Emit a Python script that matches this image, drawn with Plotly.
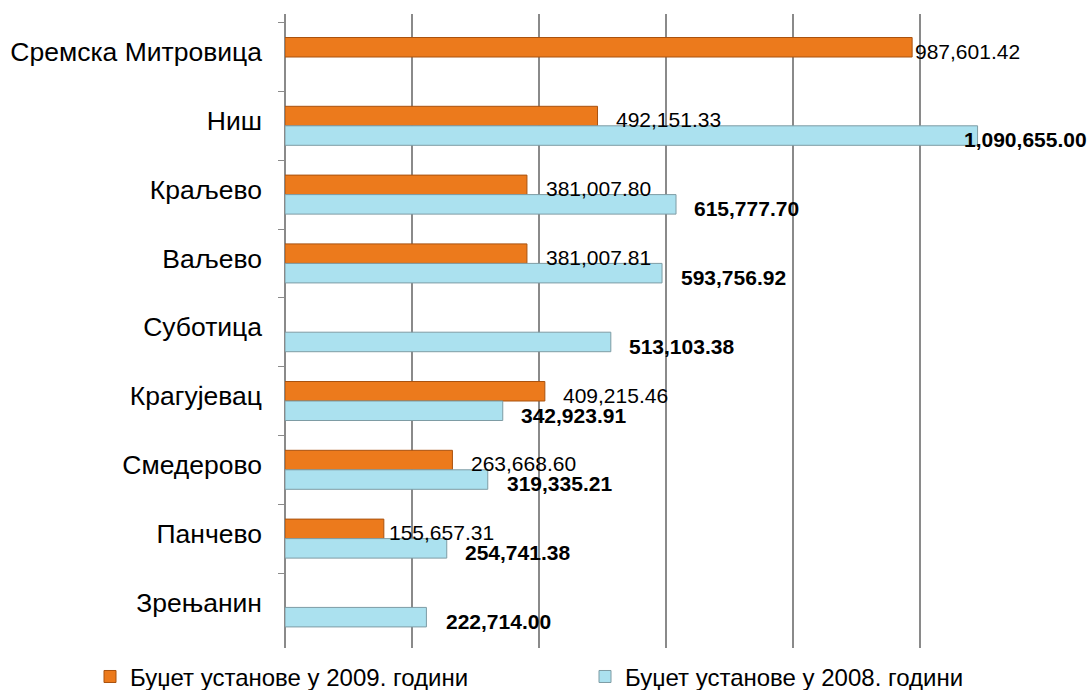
import plotly.graph_objects as go

categories = ["Сремска Митровица", "Ниш", "Краљево", "Ваљево", "Суботица",
              "Крагујевац", "Смедерово", "Панчево", "Зрењанин"]
budget_2009 = [987601.42, 492151.33, 381007.80, 381007.81, None,
               409215.46, 263668.60, 155657.31, None]
budget_2008 = [None, 1090655.00, 615777.70, 593756.92, 513103.38,
               342923.91, 319335.21, 254741.38, 222714.00]
label_2009 = ["987,601.42", "492,151.33", "381,007.80", "381,007.81", None,
              "409,215.46", "263,668.60", "155,657.31", None]
label_2008 = [None, "1,090,655.00", "615,777.70", "593,756.92", "513,103.38",
              "342,923.91", "319,335.21", "254,741.38", "222,714.00"]
name_2009 = "Буџет установе у 2009. години"
name_2008 = "Буџет установе у 2008. години"

# label placement offsets (px) relative to bar end
gap_2009 = [1, 16, 17, 17, 0, 16, 17, 3, 0]
gap_2008 = [0, -16, 16, 17, 16, 16, 17, 16, 18]

FONT = "Liberation Sans, Arial, sans-serif"
ORANGE = "#EC7A1C"
BLUE = "#ABE1EF"

fig = go.Figure()
fig.add_trace(go.Bar(
    y=categories, x=budget_2009, orientation="h", name=name_2009,
    marker=dict(color=ORANGE, line=dict(color="#A9520F", width=1)),
    legend="legend",
))
fig.add_trace(go.Bar(
    y=categories, x=budget_2008, orientation="h", name=name_2008,
    marker=dict(color=BLUE, line=dict(color="#7E9CA4", width=1)),
    legend="legend2",
))

for c, v, t, g in zip(categories, budget_2009, label_2009, gap_2009):
    if v is None:
        continue
    fig.add_annotation(x=v, y=c, text=t, showarrow=False, xanchor="left",
                       xshift=g, yshift=6,
                       font=dict(family=FONT, size=21, color="#000000"))
for c, v, t, g in zip(categories, budget_2008, label_2008, gap_2008):
    if v is None:
        continue
    fig.add_annotation(x=v, y=c, text="<b>" + t + "</b>", showarrow=False,
                       xanchor="left", xshift=g, yshift=-14,
                       font=dict(family=FONT, size=21, color="#000000"))

legend_style = dict(orientation="h", xref="container", yref="container",
                    xanchor="left", yanchor="middle", y=0.019,
                    font=dict(family=FONT, size=24, color="#000000"),
                    itemwidth=30, bgcolor="rgba(0,0,0,0)", borderwidth=0)

fig.update_layout(
    width=1087, height=690,
    margin=dict(l=285, r=40, t=14, b=42, autoexpand=False),
    paper_bgcolor="#ffffff", plot_bgcolor="#ffffff",
    barmode="group", bargap=0.433, bargroupgap=0,
    font=dict(family=FONT, color="#000000"),
    showlegend=True,
    legend=dict(x=90 / 1087, **legend_style),
    legend2=dict(x=585 / 1087, **legend_style),
    xaxis=dict(range=[0, 1200000], dtick=200000, showticklabels=False,
               showgrid=True, gridcolor="#8a8a8a", gridwidth=1.5,
               zeroline=True, zerolinecolor="#8a8a8a", zerolinewidth=1.5,
               ticks="", fixedrange=True, automargin=False),
    yaxis=dict(categoryorder="array", categoryarray=categories,
               range=[8.59, -0.625], showgrid=False, zeroline=False,
               ticks="outside", ticklen=6, tickcolor="#8a8a8a",
               tickson="boundaries", ticklabelstandoff=22, ticklabelshift=5,
               automargin=False, fixedrange=True,
               tickfont=dict(family=FONT, size=26.5, color="#000000")),
)

fig.write_html(
    "out.html",
    config={"displayModeBar": False},
    post_script="document.body.style.margin='0';document.body.style.overflow='hidden';",
)
